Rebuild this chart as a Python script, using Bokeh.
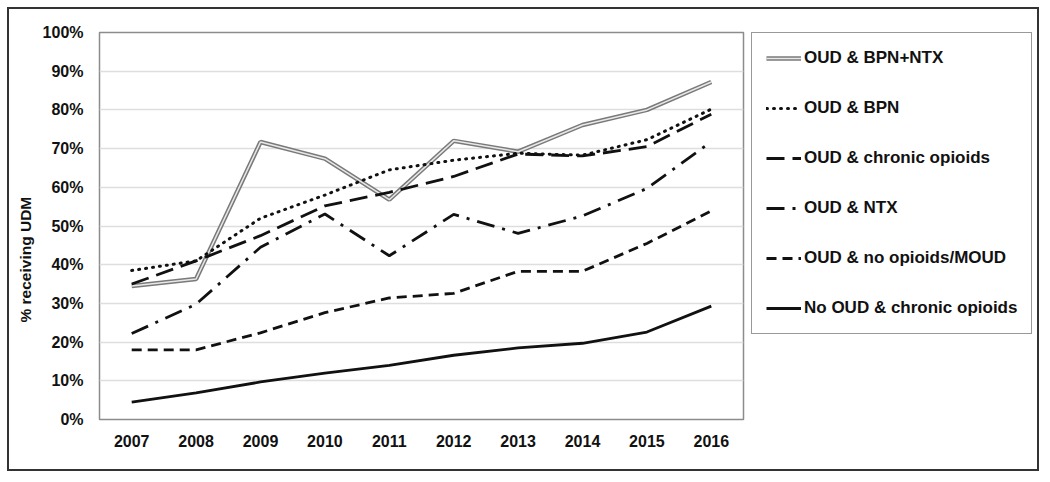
from bokeh.plotting import figure
from bokeh.layouts import row
from bokeh.models import (FixedTicker, PrintfTickFormatter, Legend, LegendItem,
                          Title, Range1d)
from bokeh.embed import file_html
from bokeh.resources import INLINE

# ---- data ----
years = ["2007", "2008", "2009", "2010", "2011", "2012", "2013", "2014", "2015", "2016"]
oud_bpn_ntx = [34.5, 36.3, 71.7, 67.4, 56.8, 72.0, 69.2, 76.1, 80.0, 87.2]
oud_bpn = [38.5, 41.0, 52.0, 58.0, 64.5, 67.0, 68.8, 68.3, 72.3, 80.2]
oud_chronic = [35.0, 41.0, 47.5, 55.2, 58.7, 62.8, 68.6, 68.1, 70.5, 78.9]
oud_ntx = [22.2, 29.8, 44.5, 53.1, 42.3, 53.0, 48.1, 52.6, 59.7, 71.8]
oud_none = [18.0, 18.0, 22.4, 27.6, 31.4, 32.6, 38.3, 38.3, 45.5, 53.9]
no_oud_chronic = [4.5, 6.9, 9.7, 12.0, 14.0, 16.6, 18.5, 19.7, 22.6, 29.3]
y_ticks = [0, 10, 20, 30, 40, 50, 60, 70, 80, 90, 100]
series_labels = ["OUD & BPN+NTX", "OUD & BPN", "OUD & chronic opioids",
                 "OUD & NTX", "OUD & no opioids/MOUD", "No OUD & chronic opioids"]
y_title = "% receiving UDM"

FONT = "Liberation Sans"
INK = "#111111"

# line styles
styles = [
    None,  # double line handled separately
    dict(line_color=INK, line_width=3, line_dash="1 6", line_cap="round"),
    dict(line_color=INK, line_width=2.8, line_dash="18 8"),
    dict(line_color=INK, line_width=2.8, line_dash="18 8 3 8"),
    dict(line_color=INK, line_width=2.8, line_dash="10 6"),
    dict(line_color=INK, line_width=2.8),
]
outer = dict(line_color="#7a7a7a", line_width=4.5)
inner = dict(line_color="#e8e8e8", line_width=1.5)

p = figure(x_range=years, y_range=Range1d(0, 100), width=738, height=460,
           output_backend="svg", toolbar_location=None,
           min_border_left=89, min_border_right=4,
           min_border_top=23, min_border_bottom=50)

p.outline_line_color = "#8c8c8c"
p.outline_line_width = 1.5
p.xgrid.grid_line_color = None
p.ygrid.grid_line_color = "#dedede"
p.ygrid.grid_line_width = 1.5

p.yaxis.ticker = FixedTicker(ticks=y_ticks)
p.yaxis.formatter = PrintfTickFormatter(format="%d%%")
for ax in (p.xaxis, p.yaxis):
    ax.axis_line_color = None
    ax.major_tick_line_color = None
    ax.minor_tick_line_color = None
    ax.major_tick_out = 0
    ax.major_tick_in = 0
    ax.minor_tick_out = 0
    ax.major_label_text_font = FONT
    ax.major_label_text_font_style = "bold"
    ax.major_label_text_font_size = "16px"
    ax.major_label_text_color = INK
p.yaxis.major_label_standoff = 16
p.xaxis.major_label_standoff = 15

p.line(years, oud_bpn_ntx, **outer)
p.line(years, oud_bpn_ntx, **inner)
p.line(years, oud_bpn, **styles[1])
p.line(years, oud_chronic, **styles[2])
p.line(years, oud_ntx, **styles[3])
p.line(years, oud_none, **styles[4])
p.line(years, no_oud_chronic, **styles[5])

title = Title(text=y_title, align="left", offset=97, standoff=11,
              text_font=FONT, text_font_style="bold",
              text_font_size="15.5px", text_color=INK)
p.add_layout(title, "left")

# ---- legend panel (separate figure holding legend swatches) ----
pl = figure(width=290, height=460, x_range=Range1d(0, 1), y_range=Range1d(0, 1),
            x_axis_type=None, y_axis_type=None, output_backend="svg",
            toolbar_location=None, min_border_left=0, min_border_right=0,
            min_border_top=0, min_border_bottom=0)
pl.outline_line_color = None
pl.grid.grid_line_color = None

nan = [float("nan")]
sw_a = pl.line(nan, nan, **outer)
sw_b = pl.line(nan, nan, **inner)
swatches = [[sw_a, sw_b]] + [[pl.line(nan, nan, **s)] for s in styles[1:]]
items = [LegendItem(label=lab, renderers=rs) for lab, rs in zip(series_labels, swatches)]

legend = Legend(items=items, location=(4, 85), margin=0, padding=14,
                spacing=28, glyph_width=35, glyph_height=22, label_height=22,
                label_standoff=3, label_text_font=FONT,
                label_text_font_style="bold", label_text_font_size="17px",
                label_text_color=INK,
                border_line_color="#333333", border_line_width=1.2,
                background_fill_color="white", background_fill_alpha=1.0)
pl.add_layout(legend)

layout = row(p, pl)
layout.styles = {"border": "2px solid #333333", "margin-left": "7px",
                 "margin-top": "7px"}

open("out.html", "w").write(file_html(layout, INLINE))
